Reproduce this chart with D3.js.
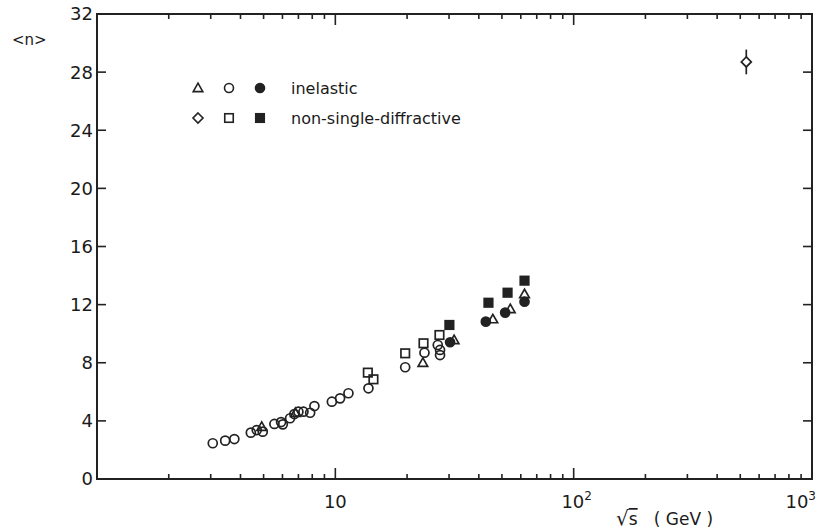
<!DOCTYPE html>
<html>
<head>
<meta charset="utf-8">
<script src="https://cdn.jsdelivr.net/npm/d3@7"></script>
<style>
  html, body { margin: 0; padding: 0; background: #fff; }
  svg { display: block; }
  text { font-family: "DejaVu Sans", "Liberation Sans", sans-serif; fill: #1a1a1a; }
</style>
</head>
<body>
<svg id="chart" width="817" height="532"></svg>
<script>
// Mean charged multiplicity <n> versus sqrt(s)

// inelastic, open triangles
const triSqrtS = [4.91, 6.8, 23.3, 31.5, 45.8, 54.2, 62.2];
const triN     = [3.6, 4.55, 8.0, 9.57, 11.0, 11.7, 12.73];

// inelastic, open circles
const circSqrtS = [3.06, 3.45, 3.77, 4.42, 4.68, 4.96, 5.55, 5.92, 6.02, 6.46, 6.73, 7.0, 7.35, 7.84, 8.17, 9.67, 10.47, 11.35, 13.77, 19.64, 23.66, 26.9, 27.5, 27.5];
const circN     = [2.46, 2.64, 2.75, 3.19, 3.37, 3.26, 3.79, 3.92, 3.76, 4.18, 4.47, 4.63, 4.63, 4.56, 5.02, 5.32, 5.55, 5.9, 6.24, 7.69, 8.69, 9.22, 8.88, 8.53];

// inelastic, filled circles
const dotSqrtS = [30.3, 42.8, 51.6, 62.2];
const dotN     = [9.41, 10.83, 11.45, 12.2];

// non-single-diffractive, open diamond with error
const diaSqrtS = [530];
const diaN     = [28.7];
const diaErr   = [0.85];

// non-single-diffractive, open squares
const sqSqrtS = [13.69, 14.45, 19.64, 23.44, 27.35];
const sqN     = [7.32, 6.86, 8.65, 9.34, 9.91];

// non-single-diffractive, filled squares
const fsqSqrtS = [30.1, 43.9, 52.8, 62.2];
const fsqN     = [10.6, 12.13, 12.82, 13.65];

// axis ticks
const yTicks = [0, 4, 8, 12, 16, 20, 24, 28, 32];
const xMajor = [1, 10, 100, 1000];
const xLabels = [
  { v: 10, base: "10", sup: "", anchor: "middle", dx: 0 },
  { v: 100, base: "10", sup: "2", anchor: "middle", dx: 3 },
  { v: 1000, base: "10", sup: "3", anchor: "end", dx: 4 }
];

const svg = d3.select("#chart");
const ink = "#222";

const x = d3.scaleLog().domain([1, 1000]).range([97, 812]);
const y = d3.scaleLinear().domain([0, 32]).range([479, 14]);

const minorX = [];
for (let d = 1; d < 1000; d *= 10) for (let k = 2; k <= 9; k++) minorX.push(d * k);

// frame
svg.append("rect")
  .attr("x", x(1)).attr("y", y(32))
  .attr("width", x(1000) - x(1)).attr("height", y(0) - y(32))
  .attr("fill", "none").attr("stroke", ink).attr("stroke-width", 2);

// bottom and top ticks (inward)
const bottom = svg.append("g").attr("stroke", ink).attr("stroke-width", 1.6);
minorX.forEach(v => {
  bottom.append("line").attr("x1", x(v)).attr("x2", x(v)).attr("y1", y(0)).attr("y2", y(0) - 5);
  bottom.append("line").attr("x1", x(v)).attr("x2", x(v)).attr("y1", y(32)).attr("y2", y(32) + 5);
});
xMajor.forEach(v => {
  bottom.append("line").attr("x1", x(v)).attr("x2", x(v)).attr("y1", y(0)).attr("y2", y(0) - 11);
  bottom.append("line").attr("x1", x(v)).attr("x2", x(v)).attr("y1", y(32)).attr("y2", y(32) + 11);
});

// left and right ticks (inward)
const side = svg.append("g").attr("stroke", ink).attr("stroke-width", 1.6);
yTicks.forEach(v => {
  side.append("line").attr("x1", x(1)).attr("x2", x(1) + 9).attr("y1", y(v)).attr("y2", y(v));
  side.append("line").attr("x1", x(1000)).attr("x2", x(1000) - 9).attr("y1", y(v)).attr("y2", y(v));
});

// y tick labels
svg.append("g").selectAll("text").data(yTicks).join("text")
  .attr("x", 93).attr("y", d => y(d)).attr("dy", "0.36em")
  .attr("text-anchor", "end").attr("font-size", 18)
  .text(d => d);

// x tick labels
const xl = svg.append("g").selectAll("text").data(xLabels).join("text")
  .attr("x", d => x(d.v) + d.dx).attr("y", 508)
  .attr("text-anchor", d => d.anchor).attr("font-size", 18);
xl.append("tspan").text(d => d.base);
xl.append("tspan").attr("font-size", 12).attr("dy", -8).text(d => d.sup);

// axis titles
svg.append("text").attr("x", 12).attr("y", 45).attr("font-size", 15).text("<n>");
const xt = svg.append("text").attr("x", 616).attr("y", 525).attr("font-size", 17)
  .attr("xml:space", "preserve");
xt.append("tspan").attr("font-size", 20).text("√");
xt.append("tspan").attr("text-decoration", "overline").text("s");
xt.append("tspan").text("   ( GeV )");

// markers
const r = 4.5, s = 8.5;
const g = svg.append("g").attr("stroke", ink).attr("stroke-width", 1.7);

function triPath(cx, cy) {
  const h = 4.8;
  return `M${cx},${cy - h}L${cx + h},${cy + h * 0.75}L${cx - h},${cy + h * 0.75}Z`;
}
function diaPath(cx, cy) {
  const h = 5;
  return `M${cx},${cy - h}L${cx + h},${cy}L${cx},${cy + h}L${cx - h},${cy}Z`;
}

circSqrtS.forEach((v, i) => g.append("circle")
  .attr("cx", x(v)).attr("cy", y(circN[i])).attr("r", r).attr("fill", "none"));
sqSqrtS.forEach((v, i) => g.append("rect")
  .attr("x", x(v) - s / 2).attr("y", y(sqN[i]) - s / 2).attr("width", s).attr("height", s)
  .attr("fill", "none"));
triSqrtS.forEach((v, i) => g.append("path")
  .attr("d", triPath(x(v), y(triN[i]))).attr("fill", "none"));
dotSqrtS.forEach((v, i) => g.append("circle")
  .attr("cx", x(v)).attr("cy", y(dotN[i])).attr("r", r).attr("fill", ink));
fsqSqrtS.forEach((v, i) => g.append("rect")
  .attr("x", x(v) - s / 2).attr("y", y(fsqN[i]) - s / 2).attr("width", s).attr("height", s)
  .attr("fill", ink));
diaSqrtS.forEach((v, i) => {
  g.append("line").attr("x1", x(v)).attr("x2", x(v))
    .attr("y1", y(diaN[i] + diaErr[i])).attr("y2", y(diaN[i] - diaErr[i]));
  g.append("path").attr("d", diaPath(x(v), y(diaN[i]))).attr("fill", "#fff");
});

// legend
const leg = svg.append("g").attr("stroke", ink).attr("stroke-width", 1.6);
leg.append("path").attr("d", triPath(198, 88)).attr("fill", "none");
leg.append("circle").attr("cx", 229).attr("cy", 88).attr("r", r).attr("fill", "none");
leg.append("circle").attr("cx", 260).attr("cy", 88).attr("r", r).attr("fill", ink);
leg.append("path").attr("d", diaPath(198, 118)).attr("fill", "none");
leg.append("rect").attr("x", 229 - s / 2).attr("y", 118 - s / 2).attr("width", s).attr("height", s).attr("fill", "none");
leg.append("rect").attr("x", 260 - s / 2).attr("y", 118 - s / 2).attr("width", s).attr("height", s).attr("fill", ink);
svg.append("text").attr("x", 291).attr("y", 88).attr("dy", "0.36em").attr("font-size", 16).text("inelastic");
svg.append("text").attr("x", 291).attr("y", 118).attr("dy", "0.36em").attr("font-size", 16).text("non-single-diffractive");
</script>
</body>
</html>
